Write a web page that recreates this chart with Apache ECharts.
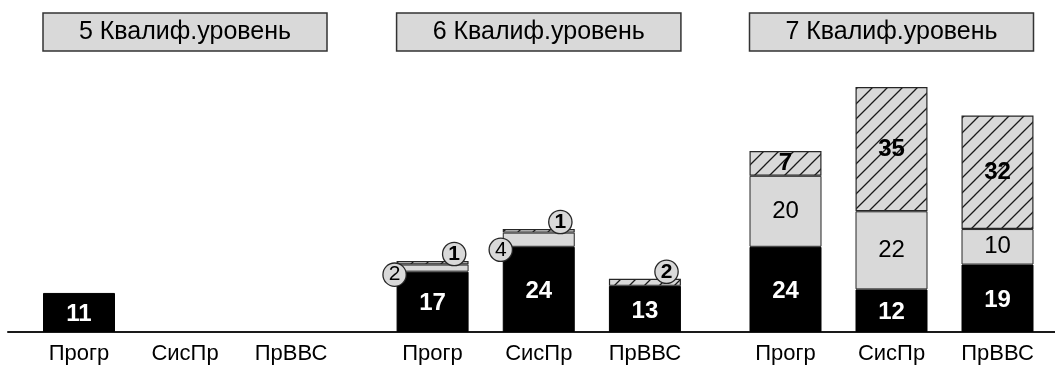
<!DOCTYPE html>
<html>
<head>
<meta charset="utf-8">
<script src="https://cdn.jsdelivr.net/npm/echarts@6/dist/echarts.min.js"></script>
<style>
  html, body { margin: 0; padding: 0; background: #fff; }
  #chart { width: 1055px; height: 367px; }
</style>
</head>
<body>
<div id="chart"></div>
<script>
// Qualification levels (one panel each) and the three specialisations per panel
const levels = ['5 Квалиф.уровень', '6 Квалиф.уровень', '7 Квалиф.уровень'];
const categories = ['Прогр', 'СисПр', 'ПрВВС'];

// Stacked segments per level: bottom (black), middle (grey), top (hatched)
const blackValues = [[11, 0, 0], [17, 24, 13], [24, 12, 19]];
const greyValues = [[0, 0, 0], [2, 4, 0], [20, 22, 10]];
const hatchValues = [[0, 0, 0], [1, 1, 2], [7, 35, 32]];

const FONT = '"Liberation Sans", Arial, sans-serif';
const GREY = '#d9d9d9';
const EDGE = '#262626';
const Y_MAX = 70;
const BAR_W = 72;

// Diagonal hatch tile used for the top segments
function hatchPattern() {
  const s = 15;
  const c = document.createElement('canvas');
  c.width = s; c.height = s;
  const g = c.getContext('2d');
  g.fillStyle = GREY;
  g.fillRect(0, 0, s, s);
  g.strokeStyle = '#1a1a1a';
  g.lineWidth = 1.3;
  g.beginPath();
  g.moveTo(-1, s + 1); g.lineTo(s + 1, -1);
  g.moveTo(-2, 2); g.lineTo(2, -2);
  g.moveTo(s - 2, s + 2); g.lineTo(s + 2, s - 2);
  g.stroke();
  return { image: c, repeat: 'repeat' };
}
const HATCH = hatchPattern();

// Small values are shown in a grey circle next to the segment
const circle = {
  backgroundColor: GREY,
  borderColor: EDGE,
  borderWidth: 1.3,
  borderRadius: 12,
  width: 22,
  height: 22,
  lineHeight: 22,
  padding: 0,
  align: 'center',
  verticalAlign: 'middle',
  fontSize: 21,
  fontFamily: FONT,
  color: '#000'
};

function toData(values, kind) {
  return values.map(v => {
    if (!v) return '-';
    if (v >= 5) return v;
    if (kind === 'grey') {
      return { value: v, label: Object.assign({ show: true, position: [-2, '100%'], offset: [0, 3] }, circle) };
    }
    return { value: v, label: Object.assign({ show: true, position: ['80%', 0], offset: [0, -7] }, circle) };
  });
}

const grids = [
  { left: 26, width: 318, top: 83.5, bottom: 35 },
  { left: 379.5, width: 318.5, top: 83.5, bottom: 35 },
  { left: 732.5, width: 318, top: 83.5, bottom: 35 },
  // full-width baseline
  { left: 8, right: 0, top: 83.5, bottom: 35 }
];

const xAxes = [], yAxes = [], series = [];
levels.forEach((lvl, i) => {
  xAxes.push({
    type: 'category', gridIndex: i, data: categories,
    axisLine: { show: false }, axisTick: { show: false },
    axisLabel: { color: '#000', fontSize: 22, fontFamily: FONT, margin: 11 }
  });
  yAxes.push({ type: 'value', gridIndex: i, min: 0, max: Y_MAX, show: false });
  const common = { type: 'bar', xAxisIndex: i, yAxisIndex: i, stack: 'lvl' + i, barWidth: BAR_W, animation: false };
  series.push(Object.assign({}, common, {
    name: 'black',
    data: toData(blackValues[i], 'black'),
    itemStyle: { color: '#000', borderColor: '#000', borderWidth: 1 },
    label: { show: true, position: 'inside', color: '#fff', fontWeight: 'bold', fontSize: 24, fontFamily: FONT, offset: [0, 2] }
  }));
  series.push(Object.assign({}, common, {
    name: 'grey',
    data: toData(greyValues[i], 'grey'),
    itemStyle: { color: GREY, borderColor: EDGE, borderWidth: 1 },
    label: { show: true, position: 'inside', color: '#000', fontSize: 24, fontFamily: FONT }
  }));
  series.push(Object.assign({}, common, {
    name: 'hatch',
    data: toData(hatchValues[i], 'hatch'),
    itemStyle: { color: HATCH, borderColor: EDGE, borderWidth: 1.2 },
    label: { show: true, position: 'inside', color: '#000', fontWeight: 'bold', fontSize: 24, fontFamily: FONT }
  }));
});
xAxes.push({
  type: 'value', gridIndex: 3, min: 0, max: 1,
  axisLine: { show: true, lineStyle: { color: '#1a1a1a', width: 2 } },
  axisTick: { show: false }, axisLabel: { show: false }, splitLine: { show: false }
});
yAxes.push({ type: 'value', gridIndex: 3, min: 0, max: 1, show: false });

const chart = echarts.init(document.getElementById('chart'), null, { renderer: 'canvas' });
chart.setOption({
  backgroundColor: '#fff',
  animation: false,
  grid: grids,
  xAxis: xAxes,
  yAxis: yAxes,
  series: series
});

// Level header boxes spanning each panel's bars
const headers = levels.map((lvl, i) => {
  const x0 = chart.convertToPixel({ xAxisIndex: i }, categories[0]) - BAR_W / 2;
  const x1 = chart.convertToPixel({ xAxisIndex: i }, categories[categories.length - 1]) + BAR_W / 2;
  return {
    type: 'group',
    children: [
      { type: 'rect', shape: { x: x0, y: 13, width: x1 - x0, height: 38 },
        style: { fill: GREY, stroke: '#333', lineWidth: 1.5 } },
      { type: 'text', x: (x0 + x1) / 2, y: 32,
        style: { text: lvl, fill: '#000', font: '25px ' + FONT, align: 'center', verticalAlign: 'middle' } }
    ]
  };
});
chart.setOption({ graphic: headers });
</script>
</body>
</html>
